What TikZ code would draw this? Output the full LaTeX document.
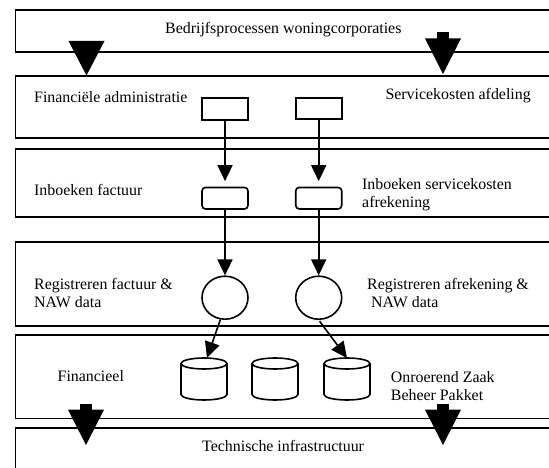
\documentclass[tikz,border=0pt]{standalone}
\usepackage{fontspec}
\setmainfont{Liberation Serif}
\usetikzlibrary{arrows.meta,shapes.geometric}
\tikzset{
  x=1pt,y=-1pt,
  band/.style={draw,fill=white,line width=1.6pt,anchor=north west,inner sep=0pt,minimum width=600pt},
  label/.style={anchor=base west,inner sep=0pt,font=\fontsize{15.9}{18}\selectfont},
  multilabel/.style={anchor=north west,inner sep=0pt,align=left,font=\fontsize{15.9}{18}\selectfont},
  plainbox/.style={draw,fill=white,line width=1.6pt,minimum width=46pt,minimum height=21.5pt,inner sep=0pt},
  softbox/.style={plainbox,rounded corners=3.5pt},
  procnode/.style={draw,fill=white,line width=1.6pt,ellipse,minimum width=46pt,minimum height=43pt,inner sep=0pt},
  store/.style={minimum width=46pt,minimum height=42pt,inner sep=0pt,outer sep=0pt},
  storeline/.style={line width=1.6pt,fill=white},
  flow/.style={line width=1.6pt,-{Triangle[length=16pt,width=15pt]}},
  bigtip/.style={fill=black,draw=none},
}
\newcommand{\storedraw}[1]{%
  \draw[storeline] ([yshift=-5.5pt]#1.north west)
     -- ([yshift=5.5pt]#1.south west)
     arc[start angle=180,end angle=360,x radius=23pt,y radius=5.5pt]
     -- ([yshift=-5.5pt]#1.north east)
     arc[start angle=0,end angle=180,x radius=23pt,y radius=5.5pt] -- cycle;
  \draw[storeline,fill=none] ([yshift=-5.5pt]#1.north west)
     arc[start angle=180,end angle=360,x radius=23pt,y radius=5.5pt];
}
\newcommand{\bigtri}[3]{\fill[bigtip] (#1-18,#2) -- (#1+18,#2) -- (#1,#3) -- cycle;}
\newcommand{\bigstem}[2]{\fill[bigtip] (#1-6,#2) rectangle (#1+6,#2+8);}
\begin{document}
\begin{tikzpicture}
\useasboundingbox (0,0) rectangle (549,468);
\clip (0,0) rectangle (549,468);
\node[band,minimum height=41.5pt] (b1) at (14.5,9.5) {};
\node[band,minimum height=62pt] (b2) at (14.5,75.5) {};
\node[band,minimum height=68pt] (b3) at (14.5,148) {};
\node[band,minimum height=84pt] (b4) at (14.5,241) {};
\node[band,minimum height=83.5pt] (b5) at (14.5,334) {};
\node[band,minimum height=80pt] (b6) at (14.5,427) {};

\node[label] (t1) at (165,34) {Bedrijfsprocessen woningcorporaties};
\node[label] (t2) at (34,102.7) {Financiële administratie};
\node[label] (t3) at (385.3,100) {Servicekosten afdeling};
\node[label] (t4) at (34,196) {Inboeken factuur};
\node[multilabel] (t5) at (362,178) {Inboeken servicekosten\\afrekening};
\node[multilabel] (t6) at (34,278) {Registreren factuur \&\\NAW data};
\node[multilabel] (t7) at (367,278) {Registreren afrekening \&\\\hspace*{4pt}NAW data};
\node[label] (t8) at (57.5,381.7) {Financieel};
\node[multilabel] (t9) at (390.7,371) {Onroerend Zaak\\Beheer Pakket};
\node[label] (t10) at (202,451.3) {Technische infrastructuur};

\node[plainbox] (r1) at (225,109) {};
\node[plainbox] (r2) at (318.7,108.5) {};
\node[softbox] (s1) at (225,198.2) {};
\node[softbox] (s2) at (318.7,198.2) {};
\node[procnode] (c1) at (225,297.7) {};
\node[procnode] (c2) at (318.7,297.7) {};
\node[store] (d1) at (204,379) {};
\node[store] (d2) at (275,379) {};
\node[store] (d3) at (347,379) {};
\storedraw{d1}
\storedraw{d2}
\storedraw{d3}

\draw[flow,shorten >=5.5pt] (r1.south) -- (s1.north);
\draw[flow,shorten >=5.5pt] (r2.south) -- (s2.north);
\draw[flow] (s1.south) -- (c1.north);
\draw[flow] (s2.south) -- (c2.north);
\draw[flow] (c1.-102) -- ([xshift=3pt]d1.north);
\draw[flow,shorten <=1.5pt] (c2.south) -- (d3.north);

\bigtri{86.5}{41}{75.5}
\bigstem{443}{32.5}
\bigtri{443}{38.5}{74}
\bigstem{86}{404}
\bigtri{86}{409.7}{445}
\bigstem{443}{404}
\bigtri{443}{409.7}{445}
\end{tikzpicture}
\end{document}
